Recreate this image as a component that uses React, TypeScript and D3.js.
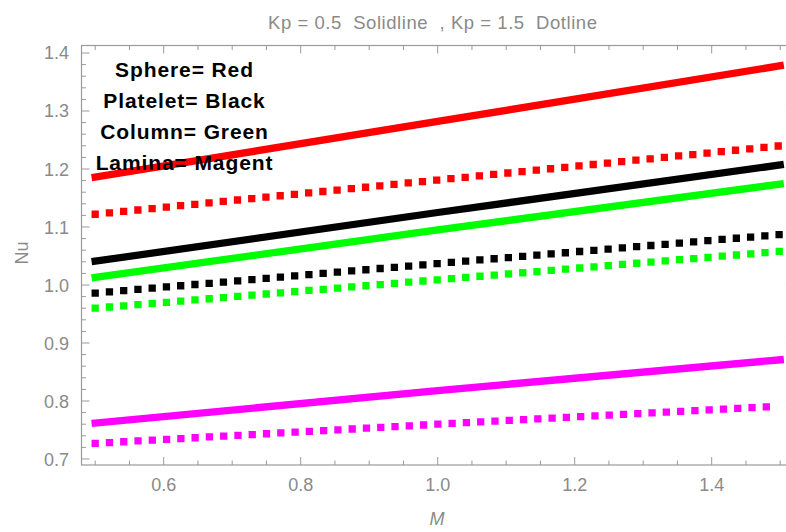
import React from "react";
import * as d3 from "d3";

const M = [0.5, 1.0, 1.5];
const sphereSolid = [1.186, 1.282, 1.378];
const sphereDot = [1.122, 1.181, 1.24];
const plateletSolid = [1.041, 1.125, 1.207];
const plateletDot = [0.986, 1.037, 1.087];
const columnSolid = [1.013, 1.095, 1.174];
const columnDot = [0.96, 1.009, 1.058];
const laminaSolid = [0.762, 0.818, 0.871];
const laminaDot = [0.727, 0.76, 0.791];

const xTicks = [0.6, 0.8, 1.0, 1.2, 1.4];
const yTicks = [0.7, 0.8, 0.9, 1.0, 1.1, 1.2, 1.3, 1.4];
const legendLines = ["Sphere= Red", "Platelet= Black", "Column= Green", "Lamina= Magent"];
const title = "Kp = 0.5  Solidline  , Kp = 1.5  Dotline";

const series = [
  { values: sphereSolid, color: "#ff0000", dotted: false },
  { values: sphereDot, color: "#ff0000", dotted: true },
  { values: plateletSolid, color: "#000000", dotted: false },
  { values: plateletDot, color: "#000000", dotted: true },
  { values: columnSolid, color: "#00ff00", dotted: false },
  { values: columnDot, color: "#00ff00", dotted: true },
  { values: laminaSolid, color: "#ff00ff", dotted: false },
  { values: laminaDot, color: "#ff00ff", dotted: true },
];

export default function App() {
  const W = 786, H = 532;
  const left = 81.5, right = 793.9, top = 45.5, bottom = 465;
  const x = d3.scaleLinear().domain([0.48, 1.52]).range([left, right]);
  const y = d3.scaleLinear().domain([0.68966, 1.41293]).range([bottom, top]);
  const gray = "#8a8a8a";
  const frame = "#9a9a9a";

  const line = d3
    .line<number>()
    .x((_, i) => x(M[i]))
    .y((d) => y(d));

  const xMinor = d3.range(0.45, 1.551, 0.05).filter((v) => x(v) > left + 1 && x(v) < right - 1);
  const yMinor = d3.range(0.68, 1.4201, 0.02).filter((v) => y(v) < bottom - 1 && y(v) > top + 1);
  const isMajorX = (v: number) => xTicks.some((t) => Math.abs(t - v) < 1e-6);
  const isMajorY = (v: number) => yTicks.some((t) => Math.abs(t - v) < 1e-6);

  return (
    <svg
      width={W}
      height={H}
      style={{ position: "absolute", left: 0, top: 0, background: "#fff" }}
      fontFamily="Liberation Sans, Arial, sans-serif"
    >
      <rect x={0} y={0} width={W} height={H} fill="#fff" />
      <defs>
        <clipPath id="plot">
          <rect x={left} y={top} width={right - left} height={bottom - top} />
        </clipPath>
      </defs>

      <rect x={left} y={top} width={right - left} height={bottom - top} fill="none" stroke={frame} strokeWidth={1.2} />

      {xMinor.map((v, i) => {
        const len = isMajorX(v) ? 8 : 4.5;
        return (
          <g key={"xt" + i} stroke={frame} strokeWidth={1}>
            <line x1={x(v)} x2={x(v)} y1={bottom} y2={bottom - len} />
            <line x1={x(v)} x2={x(v)} y1={top} y2={top + len} />
          </g>
        );
      })}
      {yMinor.map((v, i) => {
        const len = isMajorY(v) ? 8 : 4.5;
        return (
          <g key={"yt" + i} stroke={frame} strokeWidth={1}>
            <line x1={left} x2={left + len} y1={y(v)} y2={y(v)} />
            <line x1={right} x2={right - len} y1={y(v)} y2={y(v)} />
          </g>
        );
      })}

      {xTicks.map((t) => (
        <text key={"xl" + t} x={x(t)} y={491} textAnchor="middle" fontSize={18} fill={gray}>
          {t.toFixed(1)}
        </text>
      ))}
      {yTicks.map((t) => (
        <text key={"yl" + t} x={69} y={y(t) + 6.5} textAnchor="end" fontSize={18} fill={gray}>
          {t.toFixed(1)}
        </text>
      ))}

      <g clipPath="url(#plot)">
        {series.map((s, i) => (
          <path
            key={"s" + i}
            d={line(s.values) || ""}
            fill="none"
            stroke={s.color}
            strokeWidth={7.3}
            strokeLinecap="square"
            strokeDasharray={s.dotted ? "0 14.3" : undefined}
          />
        ))}
      </g>

      {legendLines.map((t, i) => (
        <text
          key={"lg" + i}
          x={184.5}
          y={76.5 + i * 31.2}
          textAnchor="middle"
          fontSize={21}
          fontWeight="bold"
          letterSpacing={0.9}
          fill="#000"
        >
          {t}
        </text>
      ))}

      <text
        x={268}
        y={29}
        fontSize={18.5}
        fill={gray}
        textLength={329}
        lengthAdjust="spacing"
        style={{ whiteSpace: "pre" }}
      >
        {title}
      </text>

      <text transform={`translate(28,${253}) rotate(-90)`} textAnchor="middle" fontSize={18} fill={gray}>
        Nu
      </text>
      <text x={437} y={525} textAnchor="middle" fontSize={18} fontStyle="italic" fill={gray}>
        M
      </text>
    </svg>
  );
}
